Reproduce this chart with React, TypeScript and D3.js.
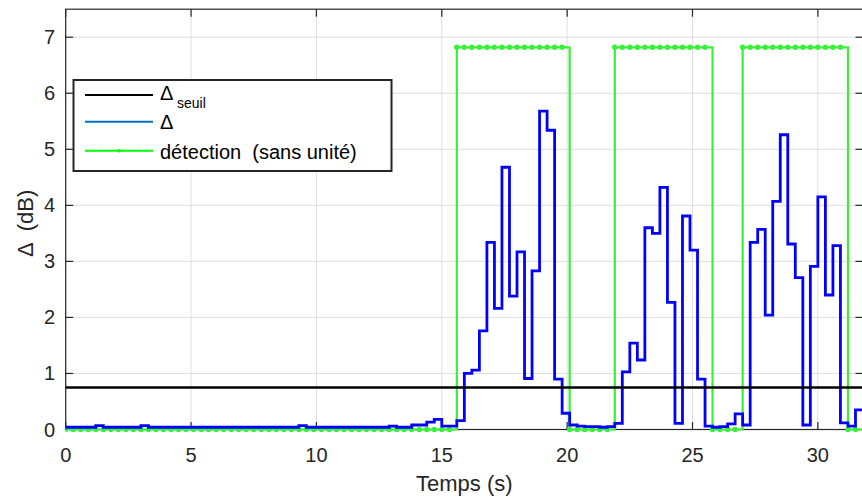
import React from "react";
import * as d3 from "d3";

// ---- data ----
const T_STEP = 0.3; // s, frame hop
const deltaValues = [
  0.04, 0.04, 0.04, 0.04, 0.07, 0.04, 0.04, 0.04, 0.04, 0.04,
  0.07, 0.04, 0.04, 0.04, 0.04, 0.04, 0.04, 0.04, 0.04, 0.04,
  0.04, 0.04, 0.04, 0.04, 0.04, 0.04, 0.04, 0.04, 0.04, 0.04,
  0.04, 0.07, 0.04, 0.04, 0.04, 0.04, 0.04, 0.04, 0.04, 0.04,
  0.04, 0.04, 0.04, 0.06, 0.04, 0.04, 0.08, 0.08, 0.13, 0.18,
  0.06, 0.06, 0.16, 1.0, 1.06, 1.76, 3.34, 2.16, 4.68, 2.38,
  3.17, 0.91, 2.83, 5.68, 5.34, 0.9, 0.29, 0.08, 0.06, 0.05,
  0.05, 0.04, 0.05, 0.11, 1.03, 1.54, 1.24, 3.6, 3.5, 4.32,
  2.27, 0.11, 3.81, 3.2, 0.9, 0.06, 0.04, 0.05, 0.1, 0.28,
  0.08, 3.34, 3.57, 2.04, 4.07, 5.26, 3.31, 2.71, 0.08, 2.91,
  4.15, 2.4, 3.28, 0.12, 0.06, 0.35,
];
const detectionFlags = [
  0, 0, 0, 0, 0, 0, 0, 0, 0, 0,
  0, 0, 0, 0, 0, 0, 0, 0, 0, 0,
  0, 0, 0, 0, 0, 0, 0, 0, 0, 0,
  0, 0, 0, 0, 0, 0, 0, 0, 0, 0,
  0, 0, 0, 0, 0, 0, 0, 0, 0, 0,
  0, 0, 1, 1, 1, 1, 1, 1, 1, 1,
  1, 1, 1, 1, 1, 1, 1, 0, 0, 0,
  0, 0, 0, 1, 1, 1, 1, 1, 1, 1,
  1, 1, 1, 1, 1, 1, 0, 0, 0, 0,
  1, 1, 1, 1, 1, 1, 1, 1, 1, 1,
  1, 1, 1, 1, 0, 0,
];
const DETECT_LEVEL = 6.82;
const THRESHOLD = 0.75;
const X_DOMAIN = [0, 31.8];
const Y_DOMAIN = [0, 7.5];
const xTicks = [0, 5, 10, 15, 20, 25, 30];
const yTicks = [0, 1, 2, 3, 4, 5, 6, 7];
const xLabel = "Temps (s)";
const yLabel = "Δ  (dB)";
const legendLabels = ["Δ", "Δ", "détection  (sans unité)"];

const W = 862;
const H = 498;
const M = { left: 65.7, right: 863, top: 9.2, bottom: 429.5 };
const FONT = "'Liberation Sans', Arial, Helvetica, sans-serif";
const AX = "#262626";

export default function App() {
  const x = d3.scaleLinear().domain(X_DOMAIN).range([M.left, M.right]);
  const y = d3.scaleLinear().domain(Y_DOMAIN).range([M.bottom, M.top]);

  const deltaPts: [number, number][] = deltaValues.map((v, i) => [i * T_STEP, v]);
  deltaPts.push([deltaValues.length * T_STEP, deltaValues[deltaValues.length - 1]]);
  const detPts: [number, number][] = detectionFlags.map((f, i) => [i * T_STEP, f * DETECT_LEVEL]);
  const detLinePts = detPts.concat([[detectionFlags.length * T_STEP, detPts[detPts.length - 1][1]]]);

  const stair = d3
    .line<[number, number]>()
    .x((d) => x(d[0]))
    .y((d) => y(d[1]))
    .curve(d3.curveStepAfter);

  const green = "#38f038";
  const tickLen = 7.5;

  return (
    <svg
      width={W}
      height={H}
      style={{ position: "absolute", left: 0, top: 0, background: "#fff" }}
      fontFamily={FONT}
    >
      <defs>
        <clipPath id="plotclip">
          <rect x={M.left} y={M.top} width={M.right - M.left} height={M.bottom - M.top + 3} />
        </clipPath>
      </defs>
      <rect x={0} y={0} width={W} height={H} fill="#fff" />
      {/* grid */}
      <g stroke="#dfdfdf" strokeWidth={1}>
        {xTicks.map((t) => (
          <line key={"gx" + t} x1={x(t)} x2={x(t)} y1={M.top} y2={M.bottom} />
        ))}
        {yTicks.map((t) => (
          <line key={"gy" + t} x1={M.left} x2={M.right} y1={y(t)} y2={y(t)} />
        ))}
      </g>
      {/* axes box & ticks */}
      <g stroke={AX} strokeWidth={1.2} fill="none">
        <rect x={M.left} y={M.top} width={M.right - M.left} height={M.bottom - M.top} />
        {xTicks.map((t) => (
          <g key={"tx" + t}>
            <line x1={x(t)} x2={x(t)} y1={M.bottom} y2={M.bottom - tickLen} />
            <line x1={x(t)} x2={x(t)} y1={M.top} y2={M.top + tickLen} />
          </g>
        ))}
        {yTicks.map((t) => (
          <g key={"ty" + t}>
            <line x1={M.left} x2={M.left + tickLen} y1={y(t)} y2={y(t)} />
            <line x1={M.right} x2={M.right - tickLen} y1={y(t)} y2={y(t)} />
          </g>
        ))}
      </g>
      {/* data */}
      <g clipPath="url(#plotclip)">
        <path d={stair(detLinePts) || ""} fill="none" stroke={green} strokeWidth={2.2} />
        {detPts.map((d, i) => (
          <circle key={"m" + i} cx={x(d[0])} cy={y(d[1])} r={2.7} fill={green} />
        ))}
        <path d={stair(deltaPts) || ""} fill="none" stroke="#0000ff" strokeWidth={2.8} strokeLinejoin="miter" />
        <line
          x1={M.left}
          x2={M.right}
          y1={y(THRESHOLD)}
          y2={y(THRESHOLD)}
          stroke="#000"
          strokeWidth={2.5}
        />
      </g>
      {/* tick labels */}
      <g fill={AX} fontSize={20}>
        {xTicks.map((t) => (
          <text key={"lx" + t} x={x(t)} y={462} textAnchor="middle">
            {t}
          </text>
        ))}
        {yTicks.map((t) => (
          <text key={"ly" + t} x={55} y={y(t) + 7} textAnchor="end">
            {t}
          </text>
        ))}
      </g>
      {/* axis labels */}
      <text x={(M.left + M.right) / 2} y={491} textAnchor="middle" fontSize={22} fill={AX}>
        {xLabel}
      </text>
      <text
        transform={`translate(33, ${(M.top + M.bottom) / 2 + 4}) rotate(-90)`}
        textAnchor="middle"
        fontSize={22}
        fill={AX}
        style={{ whiteSpace: "pre" }}
      >
        {yLabel}
      </text>
      {/* legend */}
      <g>
        <rect x={73.5} y={80} width={318} height={91} fill="#fff" stroke={AX} strokeWidth={2} />
        <line x1={85} x2={153} y1={95} y2={95} stroke="#000" strokeWidth={2} />
        <line x1={85} x2={153} y1={121.7} y2={121.7} stroke="#0072BD" strokeWidth={2} />
        <line x1={85} x2={153} y1={150.7} y2={150.7} stroke="#00ff00" strokeWidth={2} />
        <circle cx={119} cy={150.7} r={1.8} fill="#00ff00" />
        <g fill="#000" fontSize={20}>
          <text x={160} y={100}>
            {legendLabels[0]}
          </text>
          <text x={177} y={108} fontSize={14}>
            seuil
          </text>
          <text x={160} y={128.5}>
            {legendLabels[1]}
          </text>
          <text x={160} y={158.5} style={{ whiteSpace: "pre" }}>
            {legendLabels[2]}
          </text>
        </g>
      </g>
    </svg>
  );
}
